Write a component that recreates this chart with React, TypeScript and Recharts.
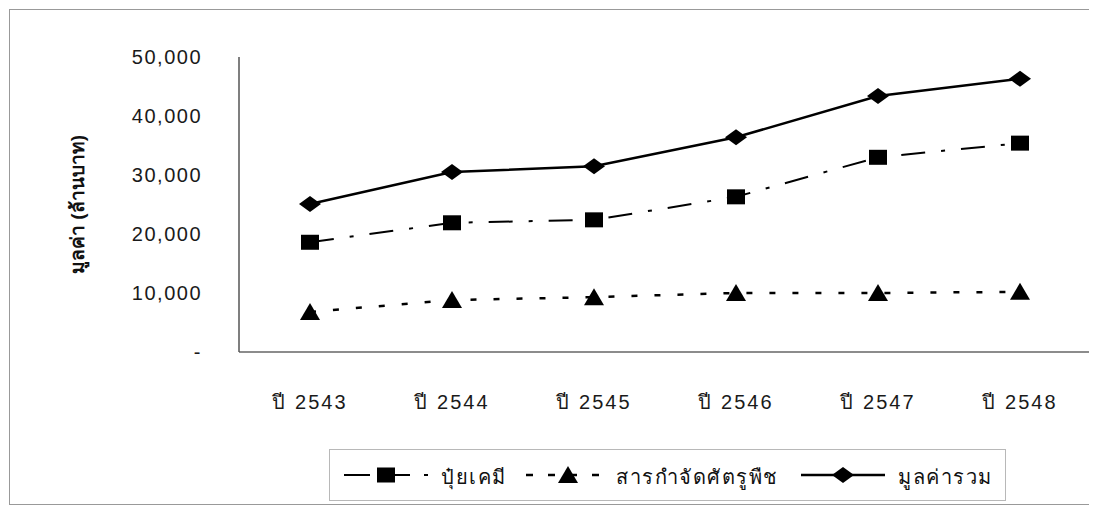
import React from "react"
import { LineChart, Line, XAxis, YAxis, Legend } from "recharts"

const years = ["ปี 2543", "ปี 2544", "ปี 2545", "ปี 2546", "ปี 2547", "ปี 2548"]
const fertilizer = [18600, 21900, 22400, 26300, 33000, 35400]
const pesticide = [6800, 8800, 9300, 10000, 10000, 10200]
const total = [25100, 30500, 31500, 36400, 43400, 46300]
const yTicks = [0, 10000, 20000, 30000, 40000, 50000]

const seriesKeys = ["fertilizer", "pesticide", "total"] as const
const seriesNames: any = { fertilizer: "ปุ๋ยเคมี", pesticide: "สารกำจัดศัตรูพืช", total: "มูลค่ารวม" }
const yLabel = "มูลค่า (ล้านบาท)"

const data = years.map((year, i) => ({
  year,
  fertilizer: fertilizer[i],
  pesticide: pesticide[i],
  total: total[i],
}))

const FONT = "'Liberation Sans', Arial, sans-serif"

const Square = ({ cx, cy }: any) =>
  cx == null ? null : <rect x={cx - 9} y={cy - 7.5} width={18} height={15} fill="#000" />
const Triangle = ({ cx, cy }: any) =>
  cx == null ? null : <polygon points={`${cx},${cy - 9} ${cx + 10},${cy + 8} ${cx - 10},${cy + 8}`} fill="#000" />
const Diamond = ({ cx, cy }: any) =>
  cx == null ? null : <polygon points={`${cx},${cy - 8} ${cx + 11},${cy} ${cx},${cy + 8} ${cx - 11},${cy}`} fill="#000" />

const styles: any = {
  fertilizer: { dash: "24 16 4 16", legendDash: "26 14", width: 2, marker: Square },
  pesticide: { dash: "6 17", legendDash: "7 15", width: 2.5, marker: Triangle },
  total: { dash: undefined, legendDash: undefined, width: 2.5, marker: Diamond },
}

// legend item positions inside the box (icon left, text left)
const legendPos: any = {
  fertilizer: { icon: 14, text: 111 },
  pesticide: { icon: 196, text: 286 },
  total: { icon: 471, text: 568 },
}

const LegendContent = ({ payload }: any) => {
  const items = seriesKeys
    .map((k) => (payload || []).find((p: any) => p.dataKey === k))
    .filter(Boolean)
  return (
    <div
      style={{
        position: "relative",
        width: 677,
        height: 52,
        border: "1px solid #b8b8b8",
        boxSizing: "border-box",
        fontFamily: FONT,
      }}
    >
      {items.map((entry: any) => {
        const s = styles[entry.dataKey]
        const M = s.marker
        const pos = legendPos[entry.dataKey]
        return (
          <React.Fragment key={entry.dataKey}>
            <svg width={84} height={30} style={{ position: "absolute", left: pos.icon, top: 10 }}>
              <line x1={0} y1={15} x2={84} y2={15} stroke="#000" strokeWidth={s.width} strokeDasharray={s.legendDash} />
              <M cx={42} cy={15} />
            </svg>
            <span
              style={{
                position: "absolute",
                left: pos.text,
                top: 11,
                fontSize: 20,
                letterSpacing: 1.5,
                color: "#111",
                whiteSpace: "nowrap",
              }}
            >
              {entry.value}
            </span>
          </React.Fragment>
        )
      })}
    </div>
  )
}

const YLabel = ({ viewBox }: any) => {
  const x = viewBox.x + 69
  const y = viewBox.y + viewBox.height / 2
  return (
    <text
      x={x}
      y={y}
      transform={`rotate(-90, ${x}, ${y})`}
      textAnchor="middle"
      dominantBaseline="central"
      fontSize={19}
      fontWeight="bold"
      fill="#111"
      fontFamily={FONT}
    >
      {yLabel}
    </text>
  )
}

export default function App() {
  return (
    <div style={{ position: "relative", width: 1089, height: 498, background: "#fff" }}>
      <div
        style={{
          position: "absolute",
          left: 1,
          top: 1,
          width: 1088,
          height: 494,
          borderTop: "1px solid #999",
          borderLeft: "1px solid #999",
          borderBottom: "1px solid #999",
        }}
      />
      <LineChart
        width={1089}
        height={498}
        data={data}
        margin={{ top: 49, right: 6, left: 0, bottom: 84 }}
        style={{ position: "absolute", left: 0, top: 0, fontFamily: FONT }}
      >
        <XAxis
          dataKey="year"
          height={70}
          tickSize={0}
          tickMargin={43}
          padding={{ left: 71, right: 71 }}
          axisLine={{ stroke: "#666", strokeWidth: 1.5 }}
          tick={{ fontSize: 20, fill: "#1a1a1a", letterSpacing: 2 }}
          interval={0}
        />
        <XAxis xAxisId="top" dataKey="year" orientation="top" height={0} tick={false} tickLine={false} axisLine={{ stroke: "#bbb" }} />
        <YAxis
          width={231}
          domain={[0, 50000]}
          ticks={yTicks}
          tickSize={0}
          tickMargin={37}
          axisLine={{ stroke: "#555", strokeWidth: 1.5 }}
          tick={{ fontSize: 20, fill: "#1a1a1a", letterSpacing: 1.5 }}
          tickFormatter={(v: number) => (v === 0 ? "-" : v.toLocaleString("en-US"))}
          label={<YLabel />}
        />
        <YAxis yAxisId="right" orientation="right" width={0} tick={false} tickLine={false} axisLine={{ stroke: "#bbb" }} />
        <Legend
          layout="horizontal"
          verticalAlign="middle"
          align="center"
          content={<LegendContent />}
          wrapperStyle={{ left: 321, top: 441, width: 677, height: 52 }}
        />
        {seriesKeys.map((key) => {
          const s = styles[key]
          const M = s.marker
          return (
            <Line
              key={key}
              dataKey={key}
              name={seriesNames[key]}
              stroke="#000"
              strokeWidth={s.width}
              strokeDasharray={s.dash}
              dot={(p: any) => <M key={`${key}-${p.index}`} cx={p.cx} cy={p.cy} />}
              isAnimationActive={false}
            />
          )
        })}
      </LineChart>
    </div>
  )
}
